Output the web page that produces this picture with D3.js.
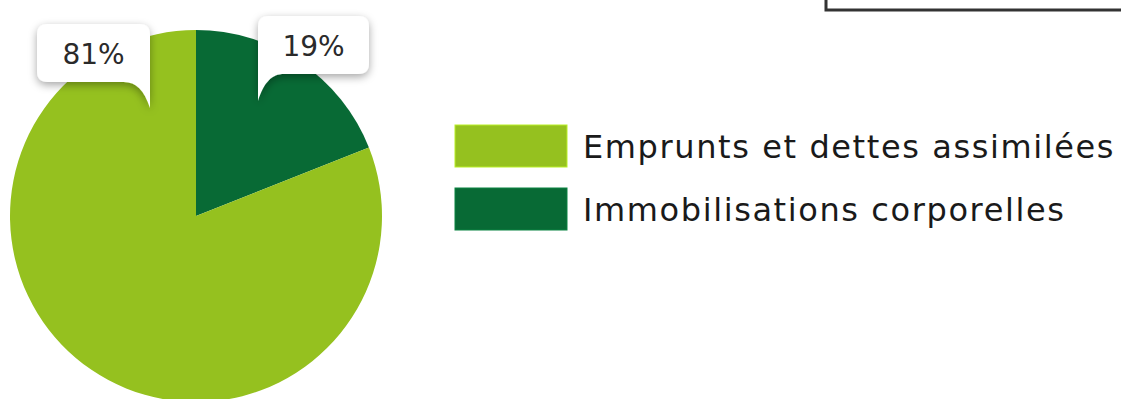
<!DOCTYPE html>
<html>
<head>
<meta charset="utf-8">
<script src="https://cdn.jsdelivr.net/npm/d3@7"></script>
<style>
  html, body { margin: 0; padding: 0; background: #fff; overflow: hidden; }
  svg { display: block; }
</style>
</head>
<body>
<script>
// Chart data
const labels = ["Emprunts et dettes assimilées", "Immobilisations corporelles"];
const values = [81, 19];
const colors = ["#95c11f", "#086a35"];

const width = 1121, height = 399;
const cx = 196, cy = 216, radius = 186;

const svg = d3.select("body").append("svg")
  .attr("width", width)
  .attr("height", height);

// drop shadow for the callouts
const defs = svg.append("defs");
const filter = defs.append("filter").attr("id", "shadow")
  .attr("x", "-30%").attr("y", "-30%").attr("width", "160%").attr("height", "160%");
filter.append("feDropShadow")
  .attr("dx", 0).attr("dy", 3).attr("stdDeviation", 4)
  .attr("flood-color", "#000").attr("flood-opacity", 0.35);

// cut-off box at top right
svg.append("rect")
  .attr("x", 826).attr("y", -40)
  .attr("width", 320).attr("height", 50)
  .attr("fill", "#fff")
  .attr("stroke", "#333")
  .attr("stroke-width", 3);

// pie: dark slice starts at 12 o'clock, going clockwise
const order = [1, 0];
const pie = d3.pie().sort(null).value(i => values[i]);
const arc = d3.arc().innerRadius(0).outerRadius(radius);

const g = svg.append("g").attr("transform", `translate(${cx},${cy})`);
g.selectAll("path")
  .data(pie(order))
  .enter()
  .append("path")
  .attr("d", arc)
  .attr("fill", d => colors[d.data]);

// callouts: box + tail pointing at the slice
const callouts = [
  { i: 0, x: 37, y: 24, w: 113, h: 58, tail: "right", tipY: 108 },
  { i: 1, x: 258, y: 16, w: 111, h: 58, tail: "left", tipY: 101 }
];

callouts.forEach(c => {
  const r = 11;
  const x0 = c.x, y0 = c.y, x1 = c.x + c.w, y1 = c.y + c.h;
  let p;
  if (c.tail === "right") {
    p = `M${x0 + r},${y0} H${x1 - r} Q${x1},${y0} ${x1},${y0 + r}
         V${c.tipY} C${x1 - 6},${y1 + 8} ${x1 - 14},${y1} ${x1 - 26},${y1}
         H${x0 + r} Q${x0},${y1} ${x0},${y1 - r} V${y0 + r} Q${x0},${y0} ${x0 + r},${y0} Z`;
  } else {
    p = `M${x0 + r},${y0} H${x1 - r} Q${x1},${y0} ${x1},${y0 + r}
         V${y1 - r} Q${x1},${y1} ${x1 - r},${y1} H${x0 + 26}
         C${x0 + 14},${y1} ${x0 + 6},${y1 + 8} ${x0},${c.tipY} V${y0 + r} Q${x0},${y0} ${x0 + r},${y0} Z`;
  }
  svg.append("path")
    .attr("d", p)
    .attr("fill", "#fff")
    .attr("filter", "url(#shadow)");

  svg.append("text")
    .attr("x", x0 + c.w / 2)
    .attr("y", y0 + c.h / 2 + 11)
    .attr("text-anchor", "middle")
    .style("font-family", "'DejaVu Sans', sans-serif")
    .style("font-size", "28px")
    .attr("fill", "#2a2a2a")
    .text(values[c.i] + "%");
});

// legend
const legend = svg.append("g").attr("transform", "translate(455,125)");
labels.forEach((lab, i) => {
  const row = legend.append("g").attr("transform", `translate(0,${i * 63})`);
  row.append("rect")
    .attr("width", 112).attr("height", 42)
    .attr("fill", colors[i])
    .attr("stroke", d3.color(colors[i]).brighter(0.6))
    .attr("stroke-width", 1);
  row.append("text")
    .attr("x", 128).attr("y", 33)
    .style("font-family", "'DejaVu Sans', sans-serif")
    .style("font-size", "32px")
    .style("letter-spacing", "1.6px")
    .attr("fill", "#1a1a1a")
    .text(lab);
});
</script>
</body>
</html>
